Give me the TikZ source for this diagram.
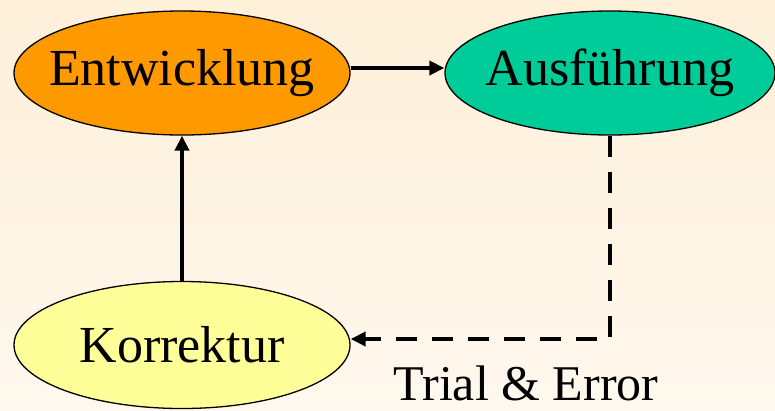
\documentclass[tikz,border=0pt]{standalone}
\usepackage{fontspec}
\setmainfont{Liberation Serif}
\usetikzlibrary{arrows.meta,shapes.geometric}

\definecolor{creamtop}{HTML}{FEF0D9}
\definecolor{creambot}{HTML}{FFF8EE}
\definecolor{devorange}{HTML}{FF9900}
\definecolor{runteal}{HTML}{00CC99}
\definecolor{fixyellow}{HTML}{FFFF99}

\begin{document}
\begin{tikzpicture}[
    x=1pt, y=-1pt,
    blob/.style={ellipse, draw, line width=1.3pt, minimum width=336pt, minimum height=124pt, inner xsep=-30pt, inner ysep=0pt, font=\fontsize{52}{52}\selectfont},
    arrow/.style={-{Triangle[length=15pt,width=14pt]}, line width=4pt},
    dasharrow/.style={arrow, dash pattern=on 21pt off 15pt}
]

% Background
\useasboundingbox (0,0) rectangle (775,410);
\shade[top color=creamtop, bottom color=creambot] (0,0) rectangle (775,410);

% Phases
\node[blob, fill=devorange] (ent) at (182,73) {Entwicklung};
\node[blob, fill=runteal, minimum width=330pt] (aus) at (610,73) {Ausführung};
\node[blob, fill=fixyellow, minimum height=127pt] (kor) at (182,345) {Korrektur};

% Arrows
\draw[arrow] ([yshift=5pt]ent.east) -- ([yshift=5pt]aus.west);
\draw[arrow] (kor.north) -- (ent.south);
\draw[dasharrow] (aus.south) |- ([yshift=6pt]kor.east);

% Labels
\node[anchor=base, inner sep=0pt, text depth=0pt, font=\fontsize{50}{50}\selectfont] (trial) at (526,400) {Trial \& Error};

\end{tikzpicture}
\end{document}
